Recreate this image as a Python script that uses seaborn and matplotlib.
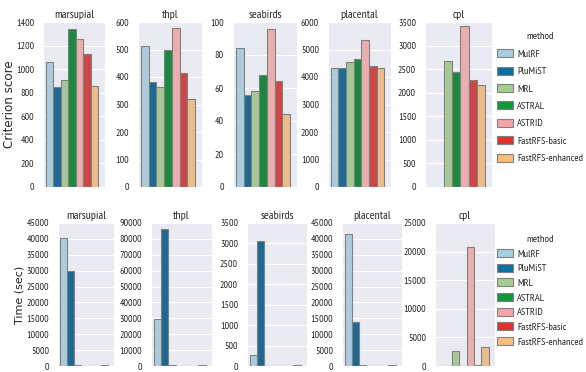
import matplotlib
matplotlib.use("Agg")
import matplotlib.pyplot as plt
import seaborn as sns
import pandas as pd
from matplotlib.patches import Patch

datasets = ["marsupial", "thpl", "seabirds", "placental", "cpl"]
methods = ["MulRF", "PluMiST", "MRL", "ASTRAL", "ASTRID", "FastRFS-basic", "FastRFS-enhanced"]

score_marsupial = [1060, 850, 910, 1340, 1255, 1125, 855]
score_thpl = [512, 380, 362, 500, 580, 415, 320]
score_seabirds = [84, 56, 58, 68, 96, 64, 44]
score_placental = [4340, 4340, 4560, 4660, 5350, 4400, 4340]
score_cpl = [0, 0, 2670, 2440, 3420, 2260, 2170]

time_marsupial = [40300, 30000, 300, 80, 60, 80, 400]
time_thpl = [29500, 86500, 400, 60, 60, 60, 500]
time_seabirds = [280, 3050, 10, 5, 3, 5, 20]
time_placental = [41500, 13800, 300, 100, 100, 100, 400]
time_cpl = [0, 60, 2600, 60, 20800, 200, 3250]

score_ylims = [1400, 600, 100, 6000, 3500]
score_steps = [200, 100, 20, 1000, 500]
time_ylims = [45000, 90000, 3500, 45000, 25000]
time_steps = [5000, 10000, 500, 5000, 5000]

scores = [score_marsupial, score_thpl, score_seabirds, score_placental, score_cpl]
times = [time_marsupial, time_thpl, time_seabirds, time_placental, time_cpl]

colors = ["#a6cfe2", "#0b6fa4", "#a4d08e", "#0a9a38", "#f4a3a7", "#e2302f", "#fbbe7b"]

sns.set_style("darkgrid")
plt.rcParams["font.family"] = ["PT Sans Narrow", "DejaVu Sans"]

W, H = 586, 372
fig = plt.figure(figsize=(W / 100, H / 100), dpi=100)

top_lefts = [43, 138, 233, 328, 425]
top_widths = [62, 64, 64, 63, 67]
bot_lefts = [58, 151, 247, 342, 435]
bot_widths = [56, 61, 60, 60, 60]

def draw(vals, left, width, top, bottom, ylim, step, title):
    ax = fig.add_axes([left / W, 1 - bottom / H, width / W, (bottom - top) / H])
    df = pd.DataFrame({"dataset": title, "method": methods, "value": vals})
    sns.barplot(data=df, x="dataset", y="value", hue="method", hue_order=methods,
                palette=colors, edgecolor="0.5", linewidth=0.8, ax=ax, legend=False)
    ax.set_xlim(-0.44, 0.50)
    ax.set_ylim(0, ylim)
    ax.set_yticks(list(range(0, ylim + 1, step)))
    ax.set_xticks([])
    ax.set_xlabel("")
    ax.set_ylabel("")
    ax.set_title(title, fontsize=8.5, pad=3)
    ax.tick_params(axis="y", labelsize=7.2, pad=3)
    return ax

for i, ds in enumerate(datasets):
    a1 = draw(scores[i], top_lefts[i], top_widths[i], 22, 187, score_ylims[i], score_steps[i], ds)
    a2 = draw(times[i], bot_lefts[i], bot_widths[i], 223, 366, time_ylims[i], time_steps[i], ds)
    if i == 0:
        a1.set_ylabel("Criterion score", fontsize=8.6, family="DejaVu Sans")
        a1.yaxis.set_label_coords(-0.44, 0.5)
        a2.set_ylabel("Time (sec)", fontsize=8, family="DejaVu Sans")
        a2.yaxis.set_label_coords(-0.6, 0.5)

handles = [Patch(facecolor=colors[k], edgecolor="0.5", linewidth=0.8) for k in range(7)]
for cy, sp in [(0.737, 0.75), (0.218, 0.48)]:
    fig.legend(handles, methods, title="method", loc="center left",
               bbox_to_anchor=(0.841, cy), frameon=False, fontsize=7.5,
               title_fontsize=7.5, handlelength=1.5, handleheight=0.8,
               labelspacing=sp, handletextpad=0.45, borderaxespad=0)

fig.savefig("out.png", dpi=100)
